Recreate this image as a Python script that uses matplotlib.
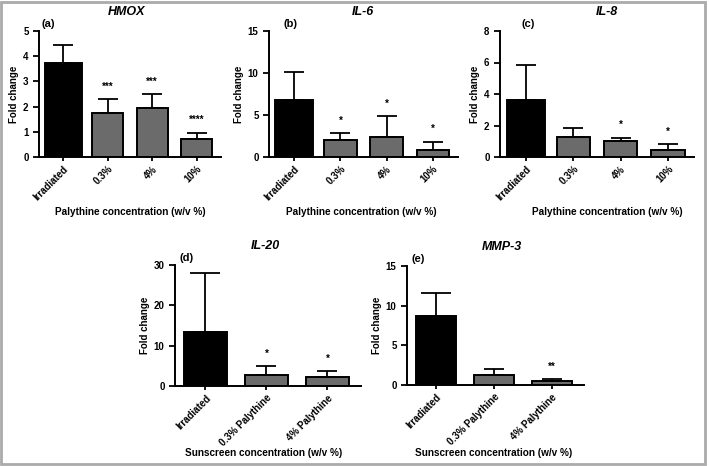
import matplotlib
matplotlib.use("Agg")
import matplotlib.pyplot as plt
from matplotlib.patches import Rectangle

plt.rcParams['font.family'] = ['Liberation Sans', 'DejaVu Sans']
plt.rcParams['font.weight'] = 'bold'

W, H = 709, 466

# ---- data ----
cats_pal = ["Irradiated", "0.3%", "4%", "10%"]
cats_sun = ["Irradiated", "0.3% Palythine", "4% Palythine"]

hmox_mean = [3.74, 1.76, 1.94, 0.70]
hmox_err = [0.69, 0.54, 0.56, 0.26]
hmox_sig = ["", "***", "***", "****"]

il6_mean = [6.77, 1.99, 2.39, 0.84]
il6_err = [3.30, 0.84, 2.47, 1.00]
il6_sig = ["", "*", "*", "*"]

il8_mean = [3.61, 1.27, 1.00, 0.47]
il8_err = [2.25, 0.58, 0.23, 0.34]
il8_sig = ["", "", "*", "*"]

il20_mean = [13.4, 2.8, 2.3]
il20_err = [14.6, 2.1, 1.4]
il20_sig = ["", "*", "*"]

mmp3_mean = [8.71, 1.30, 0.54]
mmp3_err = [2.89, 0.66, 0.16]
mmp3_sig = ["", "", "**"]

xlab_pal = "Palythine concentration (w/v %)"
xlab_sun = "Sunscreen concentration (w/v %)"

# layout in pixels: axes (left, right, top, bottom), title x, label offset, xlabel (x, y)
panels = [
    ("HMOX", "(a)", cats_pal, hmox_mean, hmox_err, hmox_sig, 5, 1, xlab_pal,
     (39, 221, 31, 157), 127, 3, (130, 212)),
    ("IL-6", "(b)", cats_pal, il6_mean, il6_err, il6_sig, 15, 5, xlab_pal,
     (269, 458, 31, 157), 363, 14, (361, 212)),
    ("IL-8", "(c)", cats_pal, il8_mean, il8_err, il8_sig, 8, 2, xlab_pal,
     (500, 694, 31, 157), 607, 22, (607, 212)),
    ("IL-20", "(d)", cats_sun, il20_mean, il20_err, il20_sig, 30, 10, xlab_sun,
     (175, 361, 265, 386), 265, 4, (264, 453)),
    ("MMP-3", "(e)", cats_sun, mmp3_mean, mmp3_err, mmp3_sig, 15, 5, xlab_sun,
     (407, 584, 266, 385), 502, 4, (494, 453)),
]

fig = plt.figure(figsize=(W / 100, H / 100), dpi=100)
fig.patch.set_facecolor("white")

for (title, lab, cats, mean, err, sig, ymax, ystep, xlab,
     (l, r, t, b), tx, loff, (xlx, xly)) in panels:
    ax = fig.add_axes([l / W, 1 - b / H, (r - l) / W, (b - t) / H])
    n = len(cats)
    xs = list(range(n))
    colors = ["black"] + ["#6b6b6b"] * (n - 1)
    if n == 4:
        widths = [0.82] + [0.7] * (n - 1)
        caps = [7] * n
    else:
        widths = [0.7] * n
        caps = [11] + [7] * (n - 1)
    ax.bar(xs, mean, width=widths, color=colors, edgecolor="black", linewidth=1.4, zorder=2)
    for x, m, e, c in zip(xs, mean, err, caps):
        ax.errorbar([x], [m], yerr=[[0], [e]], fmt="none", ecolor="black",
                    elinewidth=1.3, capsize=c, capthick=1.3, zorder=1)
    for x, m, e, s in zip(xs, mean, err, sig):
        if s:
            ax.text(x, m + e + ymax * 0.06, s, ha="center", va="bottom",
                    fontsize=7, fontweight="bold")
    ax.set_xlim(-0.55 if n == 4 else -0.5, n - 0.45)
    ax.set_ylim(0, ymax)
    ax.set_yticks(list(range(0, ymax + 1, ystep)))
    ax.set_xticks(xs)
    ax.set_xticklabels(cats, rotation=45, ha="right", rotation_mode="anchor",
                       fontsize=7, fontweight="bold")
    ax.tick_params(axis="y", labelsize=7, width=1.3, length=4)
    ax.tick_params(axis="x", width=1.3, length=3, pad=2)
    for sp in ["top", "right"]:
        ax.spines[sp].set_visible(False)
    for sp in ["left", "bottom"]:
        ax.spines[sp].set_linewidth(1.4)
    ax.set_ylabel("Fold change", fontsize=7, fontweight="bold", labelpad=3)
    ax.patch.set_alpha(0)
    fig.text(xlx / W, 1 - xly / H, xlab, ha="center", va="center",
             fontsize=7.2, fontweight="bold")
    fig.text(tx / W, 1 - (t - 19) / H, title, ha="center", va="center",
             fontsize=9, fontweight="bold", style="italic")
    fig.text((l + loff) / W, 1 - (t - 7) / H, lab, ha="left", va="center",
             fontsize=8, fontweight="bold")

fig.add_artist(Rectangle((1 / W, 2 / H), 704 / W, 462 / H, transform=fig.transFigure,
                         fill=False, edgecolor="#aaaaaa", linewidth=2))

fig.savefig("out.png", dpi=100)
